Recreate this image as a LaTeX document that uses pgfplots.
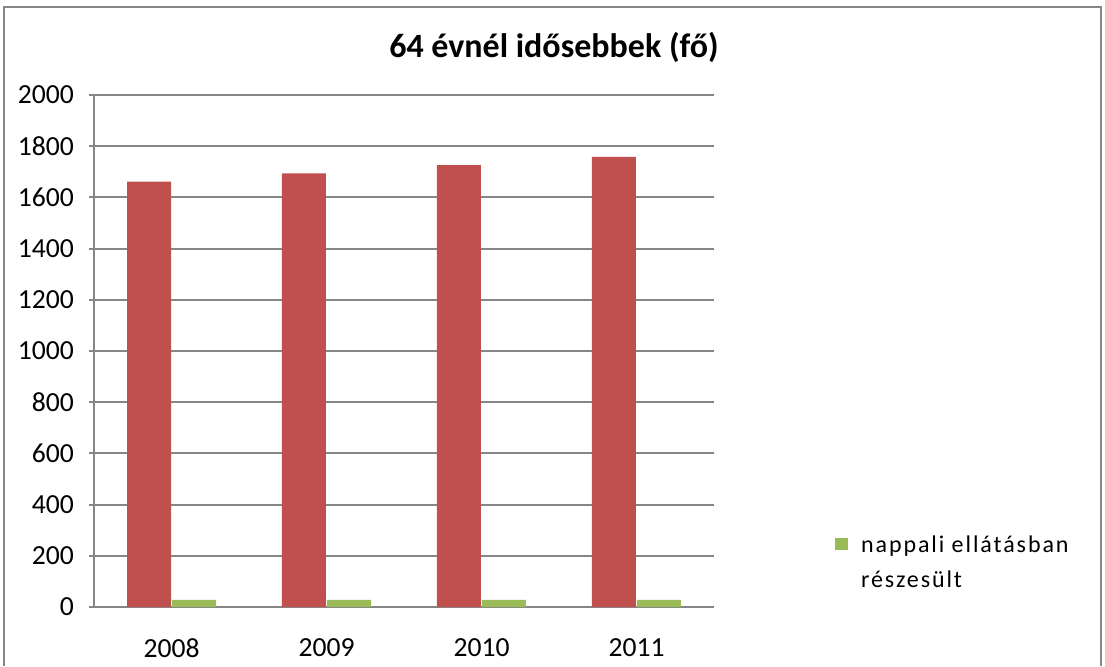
\documentclass[border=0pt]{standalone}
\usepackage{fontspec}
\setmainfont{Carlito}
\newfontfamily\legendfont[LetterSpace=8]{Carlito}
\usepackage{pgfplots}
\pgfplotsset{compat=1.18}
\definecolor{redbar}{HTML}{C0504D}
\definecolor{greenbar}{HTML}{9BBB59}
\definecolor{gridgray}{HTML}{868686}
\begin{document}
\begin{tikzpicture}[x=1pt,y=1pt]
\useasboundingbox (0,0) rectangle (552.5,333);
\draw[gridgray, line width=1pt] (2,0) -- (2,329.5) -- (550.5,329.5) -- (550.5,0);
\node[font=\fontsize{17}{20}\selectfont\bfseries] at (277,309.5) {64 évnél idősebbek (fő)};
\begin{axis}[
  at={(47pt,29.5pt)}, anchor=south west,
  scale only axis, width=310pt, height=256pt,
  xmin=-0.5, xmax=3.5, ymin=0, ymax=2000,
  ytick={0,200,...,2000},
  xtick={0,1,2,3}, xticklabels={2008,2009,2010,2011},
  axis x line*=bottom, axis y line*=left,
  axis line style={gridgray, line width=1pt},
  ymajorgrids, grid style={gridgray, line width=1pt},
  major tick length=2.5pt,
  xtick style={draw=none},
  ytick style={gridgray, line width=1pt},
  tick align=outside,
  ticklabel style={font=\fontsize{13.8}{15}\selectfont},
  xticklabel style={yshift=-10pt},
  yticklabel style={xshift=-4pt},
  /pgf/number format/assume math mode=true,
  /pgf/number format/1000 sep={},
  bar width=22pt,
  legend style={at={(axis description cs:1.185,0.155)}, anchor=north west, draw=none, fill=none,
    font=\legendfont\fontsize{12}{17.5}\selectfont, cells={align=left}},
  legend image code/.code={\path[fill=none, draw=none] (0pt,-1pt) rectangle (11pt,5pt);
    \fill[greenbar, overlay] (0pt,6.5pt) rectangle (6.3pt,12.8pt);},
]
\addplot[ybar, fill=redbar, draw=none, bar shift=-11.25pt, forget plot] coordinates {(0,1662) (1,1694) (2,1726) (3,1758)};
\addplot[ybar, fill=greenbar, draw=none, bar shift=11.25pt] coordinates {(0,28) (1,28) (2,28) (3,28)};
\addlegendentry{nappali ellátásban\\részesült}
\end{axis}
\end{tikzpicture}
\end{document}
